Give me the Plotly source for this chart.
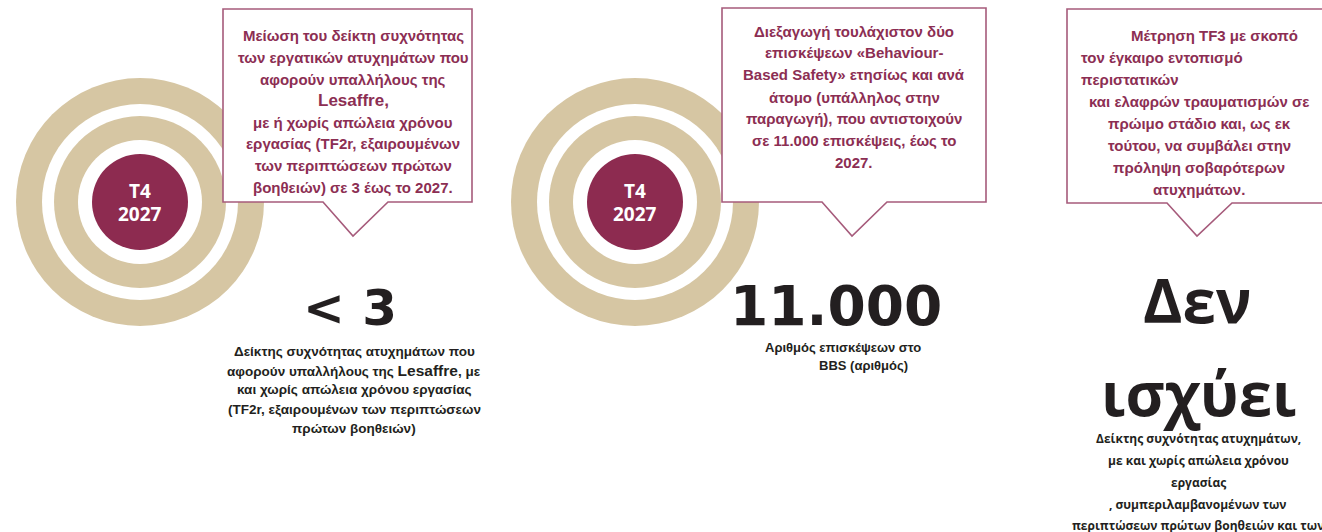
import plotly.graph_objects as go

# ---------------- data (text content) ----------------
ring_labels = ["T4", "2027"]
callout_1 = [
    "Μείωση του δείκτη συχνότητας",
    "των εργατικών ατυχημάτων που",
    "αφορούν υπαλλήλους της",
    "Lesaffre,",
    "με ή χωρίς απώλεια χρόνου",
    "εργασίας (TF2r, εξαιρουμένων",
    "των περιπτώσεων πρώτων",
    "βοηθειών) σε 3 έως το 2027.",
]
callout_2 = [
    "Διεξαγωγή τουλάχιστον δύο",
    "επισκέψεων «Behaviour-",
    "Based Safety» ετησίως και ανά",
    "άτομο (υπάλληλος στην",
    "παραγωγή), που αντιστοιχούν",
    "σε 11.000 επισκέψεις, έως το",
    "2027.",
]
callout_3 = [
    "Μέτρηση TF3 με σκοπό",
    "τον έγκαιρο εντοπισμό",
    "περιστατικών",
    "και ελαφρών τραυματισμών σε",
    "πρώιμο στάδιο και, ως εκ",
    "τούτου, να συμβάλει στην",
    "πρόληψη σοβαρότερων",
    "ατυχημάτων.",
]
kpi_1 = "< 3"
kpi_2 = "11.000"
kpi_3 = ["Δεν", "ισχύει"]
desc_1 = [
    "Δείκτης συχνότητας ατυχημάτων που",
    "αφορούν υπαλλήλους της <span style='font-size:15.5px'>Lesaffre</span>, με",
    "και χωρίς απώλεια χρόνου εργασίας",
    "(TF2r, εξαιρουμένων των περιπτώσεων",
    "πρώτων βοηθειών)",
]
desc_2 = ["Αριθμός επισκέψεων στο", "BBS (αριθμός)"]
desc_3 = [
    "Δείκτης συχνότητας ατυχημάτων,",
    "με και χωρίς απώλεια χρόνου",
    "εργασίας",
    ", συμπεριλαμβανομένων των",
    "περιπτώσεων πρώτων βοηθειών και των",
]

# ---------------- styles / positions ----------------
W, H = 1322, 532
MAROON = "#8d2b50"
TEXT_MAROON = "#8c2e53"
TAN = "#d6c6a3"
BORDER = "#a65b7b"
DARK = "#231f20"

ring_cx = [140, 635]
ring_cy = 202
ring_radii = [(124, TAN), (98, "white"), (86, TAN), (62, "white"), (48, MAROON)]

fig = go.Figure()
# invisible trace to set up axes
fig.add_trace(go.Scatter(x=[0, W], y=[0, H], mode="markers",
                         marker=dict(opacity=0), hoverinfo="skip", showlegend=False))

shapes = []
for cx in ring_cx:
    for r, col in ring_radii:
        shapes.append(dict(type="circle", xref="x", yref="y",
                           x0=cx - r, x1=cx + r, y0=ring_cy - r, y1=ring_cy + r,
                           fillcolor=col, line=dict(width=0), layer="below"))


def callout(x0, x1, y0, y1, bl, br, tx, ty):
    path = (f"M {x0},{y0} L {x1},{y0} L {x1},{y1} L {br},{y1} L {tx},{ty} "
            f"L {bl},{y1} L {x0},{y1} Z")
    return dict(type="path", xref="x", yref="y", path=path,
                fillcolor="white", line=dict(color=BORDER, width=1.6), layer="above")


shapes.append(callout(223, 472, 9, 202, 323, 388, 353, 236))
shapes.append(callout(722, 986, 8, 202, 822, 887, 852, 236))
shapes.append(callout(1067, 1330, 9, 203, 1167, 1232, 1197, 236))

ann = []


def txt(x, y, s, size, color, family="Liberation Sans", weight="bold", anchor="center"):
    ann.append(dict(x=x, y=y, xref="x", yref="y", text=s, showarrow=False,
                    xanchor=anchor, yanchor="middle",
                    font=dict(size=size, color=color, family=family, weight=weight)))


# ring labels
for cx in ring_cx:
    txt(cx, 191, ring_labels[0], 19, "white", family="Open Sans")
    txt(cx, 214, ring_labels[1], 19, "white", family="Open Sans")

# callout 1
y1s = [35, 57, 79, 100, 122, 143, 165, 187]
for s, y in zip(callout_1, y1s):
    txt(353, y, s, 17 if s.startswith("Lesaffre") else 15, TEXT_MAROON)

# callout 2
y2s = [31, 52, 74, 97, 118, 140, 162]
for s, y in zip(callout_2, y2s):
    txt(854, y, s, 15, TEXT_MAROON)

# callout 3
y3s = [35, 57, 79, 101, 123, 145, 167, 189]
x3 = [(1129, "left"), (1079, "left"), (1079, "left")] + [(1199, "center")] * 5
for s, y, (x, a) in zip(callout_3, y3s, x3):
    txt(x, y, s, 15, TEXT_MAROON, anchor=a)

# KPI values
txt(350, 308, kpi_1, 50, DARK, family="DejaVu Sans")
txt(836, 306, kpi_2, 55, DARK, family="DejaVu Sans")
txt(1197, 300, kpi_3[0], 60, DARK, family="Open Sans")
txt(1199, 393, kpi_3[1], 60, DARK, family="Open Sans")

# descriptions
for s, y in zip(desc_1, [351, 370, 389, 409, 428]):
    txt(354, y, s, 13.5, DARK)
txt(843, 347, desc_2[0], 13, DARK)
txt(863, 365, desc_2[1], 13, DARK)
for s, y in zip(desc_3, [438, 460, 482, 504, 525]):
    txt(1198, y, s, 12, DARK, family="Open Sans")

fig.update_layout(
    width=W, height=H,
    margin=dict(l=0, r=0, t=0, b=0),
    paper_bgcolor="white", plot_bgcolor="white",
    xaxis=dict(range=[0, W], visible=False, fixedrange=True),
    yaxis=dict(range=[H, 0], visible=False, fixedrange=True),
    shapes=shapes, annotations=ann, showlegend=False,
)
fig.write_html("out.html", config={"displayModeBar": False},
               post_script="document.body.style.margin='0';document.body.style.overflow='hidden';")
